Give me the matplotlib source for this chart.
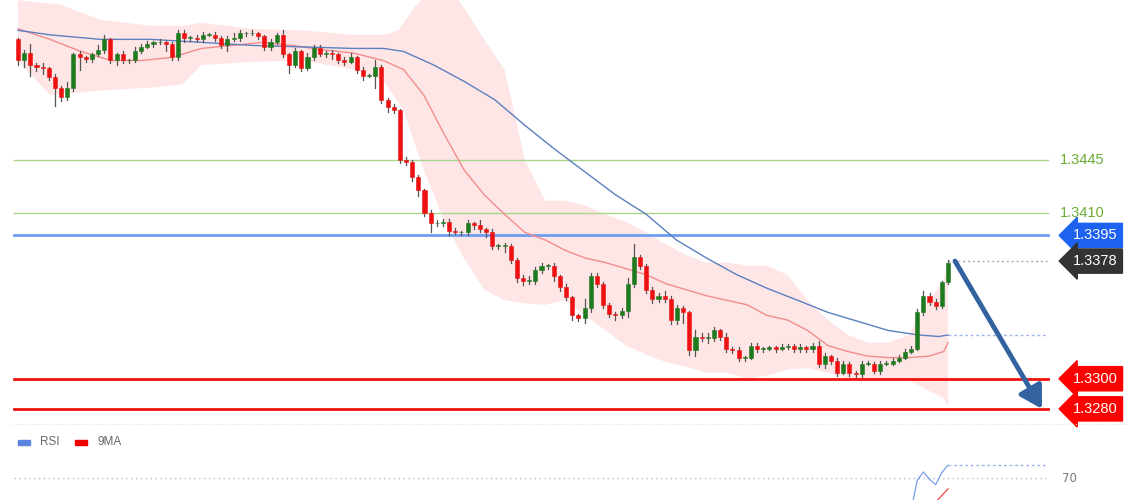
import numpy as np
import pandas as pd
import matplotlib
matplotlib.use("Agg")
import matplotlib.pyplot as plt
from matplotlib.patches import Rectangle, FancyArrowPatch

# ---------------- data ----------------
first_open = 1.3525
closes = [1.3511,1.3516,1.3508,1.3507,1.3506,1.3500,1.3493,1.3487,1.3493,1.3515,
1.3513,1.3512,1.3515,1.3518,1.3525,1.3511,1.3515,1.3511,1.3511,1.3517,
1.3520,1.3522,1.3523,1.3523,1.3522,1.3513,1.3529,1.3526,1.3526,1.3525,
1.3528,1.3528,1.3526,1.3521,1.3525,1.3526,1.3529,1.3529,1.3529,1.3527,
1.3520,1.3523,1.3528,1.3515,1.3508,1.3517,1.3506,1.3513,1.3519,1.3515,
1.3516,1.3515,1.3511,1.3510,1.3513,1.3505,1.3501,1.3501,1.3507,1.3485,
1.3480,1.3478,1.3445,1.3444,1.3434,1.3425,1.3410,1.3403,1.3403,1.3404,
1.3398,1.3397,1.3397,1.3403,1.3402,1.3399,1.3397,1.3388,1.3388,1.3388,
1.3379,1.3367,1.3365,1.3365,1.3372,1.3375,1.3375,1.3368,1.3361,1.3354,
1.3342,1.3340,1.3347,1.3368,1.3363,1.3349,1.3343,1.3342,1.3345,1.3363,
1.3381,1.3375,1.3359,1.3353,1.3355,1.3353,1.3339,1.3347,1.3344,1.3319,
1.3328,1.3327,1.3327,1.3332,1.3328,1.3320,1.3319,1.3314,1.3314,1.3322,
1.3320,1.3320,1.3321,1.3320,1.3321,1.3322,1.3320,1.3321,1.3320,1.3322,
1.3310,1.3315,1.3312,1.3304,1.3310,1.3304,1.3303,1.3310,1.3310,1.3305,
1.3310,1.3310,1.3312,1.3314,1.3318,1.3320,1.3344,1.3355,1.3351,1.3348,
1.3364,1.3377]
wick_up_pips = [1,2,6,1,2,1,2,1,4,1, 2,1,1,3,3,1,1,2,1,3, 2,2,1,2,1,1,2,2,1,2,
2,1,2,1,2,3,2,1,2,1, 1,2,1,3,1,2,1,3,2,2, 1,2,1,2,3,1,2,1,4,1,
1,2,1,2,1,1,1,2,2,2, 2,2,1,2,1,3,1,2,1,2, 1,1,2,3,2,2,1,2,1,2,
1,1,6,2,2,1,1,1,2,4, 8,1,1,2,2,3,2,2,1,1, 4,2,3,2,1,2,1,2,1,2,
2,1,1,1,2,1,1,2,1,2, 3,2,1,2,2,1,1,2,2,1, 2,2,2,2,2,2,2,3,2,2, 1,2]
wick_dn_pips = [3,4,7,3,4,2,12,3,2,2, 8,2,2,1,2,2,3,2,2,1, 1,1,2,1,5,2,2,3,2,1,
2,1,2,2,4,1,2,2,1,2, 2,2,1,2,5,1,2,1,2,1, 2,3,2,2,1,2,3,1,8,2,
3,2,2,2,3,4,2,6,2,2, 3,1,2,2,3,2,3,2,2,4, 2,3,3,2,2,2,2,3,3,2,
3,2,3,3,2,2,2,3,2,4, 2,2,2,3,2,2,3,3,7,3, 4,2,3,2,2,2,2,2,2,1,
2,2,1,2,1,1,2,2,2,2, 2,3,2,2,1,2,2,2,1,1, 2,1,1,1,1,1,1,2,2,2, 1,1]

# indicator lines (bar index, price)
red_ma_idx = [0,5.2,10.2,15.1,20,24.9,29.8,34.8,39.7,44.6,49.5,54.4,59.3,62.6,65.9,69.2,72.5,75.7,79,82.3,85.6,88.9,92.1,95.4,98.7,102,105.2,108.5,111.8,115.1,118.4,121.6,124.9,128.2,131.5,134.8,138,141.3,144.6,147.9,150.3,151]
red_ma = [1.3532,1.3525,1.3517,1.3511,1.3511,1.3513,1.3519,1.3521,1.3523,1.3521,1.3518,1.3516,1.3511,1.3505,1.3488,1.3462,1.3438,1.3422,1.3409,1.3397,1.3392,1.3385,1.3380,1.3377,1.3373,1.3369,1.3363,1.3359,1.3355,1.3352,1.3349,1.3342,1.3339,1.3332,1.3322,1.3318,1.3315,1.3314,1.3314,1.3315,1.3318,1.3324]
blue_ma_idx = [0,5.2,13.4,21.6,29.8,38,46.2,54.4,59.3,62.6,67.5,72.5,77.4,82.3,87.2,92.1,97,102,106.9,111.8,116.7,121.6,126.6,131.5,136.4,141.3,146.2,149.5,151]
blue_ma = [1.3531,1.3528,1.3525,1.3525,1.3523,1.3521,1.3520,1.3519,1.3519,1.3517,1.3508,1.3497,1.3485,1.3468,1.3452,1.3437,1.3422,1.3409,1.3392,1.3380,1.3369,1.3360,1.3352,1.3344,1.3338,1.3332,1.3329,1.3328,1.3329]
band_up_idx = [0,6.9,13.4,21.6,26.6,29.8,38,46.2,54.4,59.3,61.8,64.3,66.7,70.8,75.7,79,82.3,85.6,88.9,92.1,95.4,98.7,102,105.2,108.5,111.8,115.1,118.4,121.6,124.9,128.2,131.5,134.8,138,141.3,144.6,147.9,150.3,151]
band_up = [1.3551,1.3548,1.3538,1.3534,1.3534,1.3536,1.3532,1.3531,1.3528,1.3528,1.3531,1.3546,1.3556,1.3556,1.3525,1.3505,1.3445,1.3418,1.3418,1.3415,1.3409,1.3404,1.3397,1.3389,1.3382,1.3377,1.3377,1.3375,1.3375,1.3369,1.3352,1.3339,1.3329,1.3324,1.3324,1.3329,1.3352,1.3365,1.3377]
band_dn_idx = [0,5.2,13.4,21.6,26.6,29.8,38,46.2,54.4,59.3,62.6,65.9,69.2,72.5,75.7,79,82.3,85.6,88.9,92.1,95.4,98.7,102,105.2,108.5,111.8,115.1,118.4,121.6,124.9,128.2,131.5,134.8,138,141.3,144.6,147.9,150.3,151]
band_dn = [1.3511,1.3488,1.3491,1.3493,1.3495,1.3508,1.3510,1.3511,1.3505,1.3498,1.3478,1.3438,1.3405,1.3379,1.3359,1.3352,1.3350,1.3349,1.3352,1.3342,1.3332,1.3322,1.3316,1.3311,1.3308,1.3304,1.3304,1.3300,1.3302,1.3306,1.3307,1.3304,1.3300,1.3300,1.3300,1.3299,1.3292,1.3287,1.3282]

green_levels = [1.3445, 1.3410]
blue_level = 1.3395
last_price = 1.3378
red_levels = [1.3300, 1.3280]
target_price = 1.3280

# ---------------- helpers ----------------
W, H = 1140, 500
SP = 930 / 151.0
def px2i(x):
    return (x - 18) / SP

closes = np.array(closes)
opens = np.concatenate([[first_open], closes[:-1]])
highs = np.maximum(opens, closes) + np.array(wick_up_pips) * 1e-4
lows = np.minimum(opens, closes) - np.array(wick_dn_pips) * 1e-4
n = len(closes)
idx = np.arange(n)

fig = plt.figure(figsize=(W/100, H/100), dpi=100)
fig.patch.set_facecolor("white")
top_p = 1.35511
per_px = 0.0000663
main_h = 424
ax = fig.add_axes([0, (H-main_h)/H, 1, main_h/H])
ax.set_xlim(px2i(0), px2i(W))
ax.set_ylim(top_p - per_px*main_h, top_p)
ax.axis("off")

ax.fill(np.concatenate([band_up_idx, band_dn_idx[::-1]]),
        np.concatenate([band_up, band_dn[::-1]]),
        color="#ffdede", alpha=0.75, lw=0, zorder=1)

ax.plot(red_ma_idx, red_ma, color="#f28c8c", lw=1.0, zorder=3)
ax.plot(blue_ma_idx, blue_ma, color="#5b7fbf", lw=1.0, zorder=3)

x0, x1 = px2i(14), px2i(1048)
for g in green_levels:
    ax.plot([x0, x1], [g, g], color="#a8d68a", lw=1.0, zorder=2)
    ax.text(px2i(1060), g, f"{g:.4f}", color="#6aad35", fontsize=10.5,
            va="center", ha="left", family="Liberation Sans")
ax.plot([x0, x1], [blue_level]*2, color="#6e9cf2", lw=2.0, zorder=2)
for r in red_levels:
    ax.plot([x0, x1], [r, r], color="#f01010", lw=2.0, zorder=2)
ax.plot([n-1, x1], [last_price]*2, color="#aaaaaa", lw=1, ls=(0, (1.5, 2)), zorder=2)
ax.plot([n-1, x1], [blue_ma[-1]]*2, color="#9db4e8", lw=1, ls=(0, (2, 2)), zorder=2)

def tag(price, color):
    ax.text(px2i(1095), price, f"{price:.4f}", color="white", fontsize=10.5,
            va="center", ha="center", family="Liberation Sans", zorder=6,
            bbox=dict(boxstyle="larrow,pad=0.35", fc=color, ec=color))
tag(blue_level, "#1d62f0")
tag(last_price, "#333333")
for r in red_levels:
    tag(r, "#ff0000")

for i in idx:
    o, c = opens[i], closes[i]
    col = "#1f7a1f" if c >= o else "#ee1111"
    ax.plot([i, i], [lows[i], highs[i]], color="#555555", lw=0.9, zorder=4)
    hgt = max(abs(c - o), 0.00004)
    ax.add_patch(Rectangle((i - 0.33, min(o, c)), 0.66, hgt, fc=col, ec=col, lw=0.4, zorder=5))

ax.add_patch(FancyArrowPatch((px2i(955), last_price), (px2i(1042), target_price),
                             arrowstyle="-|>,head_length=6,head_width=3.5", mutation_scale=2.2,
                             shrinkA=0, shrinkB=0,
                             color="#3262a0", lw=3.5, zorder=7))

fig.add_artist(plt.Line2D([12/W, 1128/W], [1-424/H]*2, color="#dddddd", lw=0.8, ls=(0, (1, 2))))

fig.add_artist(Rectangle((18/W, 1-445/H), 12/W, 5/H, color="#5b84e0", transform=fig.transFigure))
fig.text(40/W, 1-442/H, "RSI", fontsize=8.5, color="#666666", va="center", family="Liberation Sans")
fig.add_artist(Rectangle((75/W, 1-445/H), 12/W, 5/H, color="#ee0000", transform=fig.transFigure))
fig.text(98/W, 1-442/H, "9MA", fontsize=8.5, color="#666666", va="center", family="Liberation Sans")

s = pd.Series(closes)
d = s.diff()
up = d.clip(lower=0).ewm(alpha=1/14, adjust=False).mean()
dn = (-d.clip(upper=0)).ewm(alpha=1/14, adjust=False).mean()
rsi = 100 - 100 / (1 + up / dn)
rsi_ma = rsi.rolling(9).mean()
warm = 100
rax = fig.add_axes([0, 0, 1, 50/H])
rax.set_xlim(px2i(0), px2i(W))
rax.set_ylim(58.5, 84.7)
rax.axis("off")
rax.plot([x0, x1], [70, 70], color="#bbbbcc", lw=1, ls=(0, (1, 2.5)))
rax.text(px2i(1062), 70, "70", fontsize=8.5, color="#777777", va="center")
rax.plot(idx[warm:], rsi[warm:], color="#7a9be8", lw=0.9)
rax.plot(idx[warm:], rsi_ma[warm:], color="#ee4444", lw=0.9)
rax.plot([n-1, x1], [rsi.iloc[-1]]*2, color="#9db4e8", lw=1, ls=(0, (2, 2)))

fig.savefig("out.png", dpi=100, facecolor="white")
